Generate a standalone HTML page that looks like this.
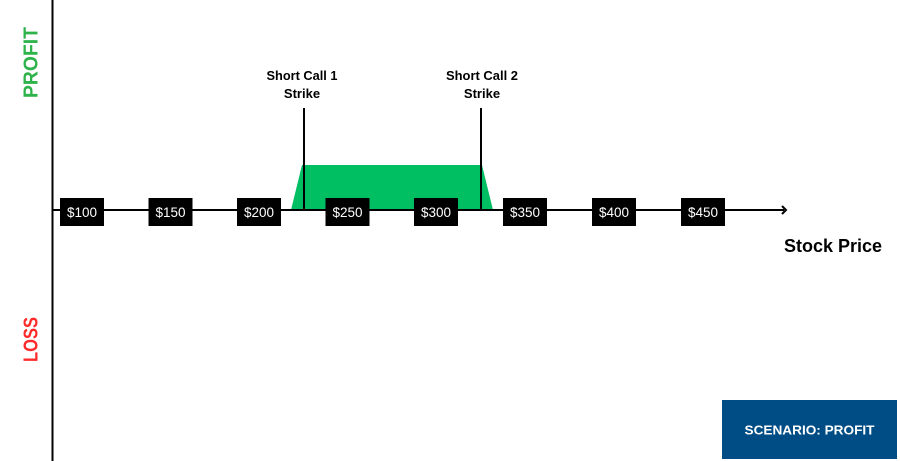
<!DOCTYPE html>
<html>
<head>
<meta charset="utf-8">
<style>
  html, body { margin:0; padding:0; background:#fff; }
  body { width:900px; height:461px; overflow:hidden; }
  svg { display:block; }
  text { font-family: "Liberation Sans", sans-serif; }
</style>
</head>
<body>
<svg width="900" height="461" viewBox="0 0 900 461" xmlns="http://www.w3.org/2000/svg">
  <rect width="900" height="461" fill="#fff"/>

  <!-- green profit area -->
  <polygon points="291,210 302,165 482,165 493,210" fill="#00BF63"/>

  <!-- vertical axis -->
  <line x1="52.5" y1="0" x2="52.5" y2="461" stroke="#000" stroke-width="2"/>

  <!-- horizontal axis -->
  <line x1="53" y1="210" x2="784" y2="210" stroke="#000" stroke-width="2"/>
  <polyline points="782,206 786,210 782,214" fill="none" stroke="#000" stroke-width="2"/>

  <!-- strike lines -->
  <line x1="304" y1="108" x2="304" y2="210" stroke="#000" stroke-width="2"/>
  <line x1="481" y1="108" x2="481" y2="210" stroke="#000" stroke-width="2"/>

  <!-- strike labels -->
  <text x="302" y="80" font-size="13" font-weight="bold" text-anchor="middle" fill="#000" textLength="71" lengthAdjust="spacingAndGlyphs">Short Call 1</text>
  <text x="302" y="98" font-size="13" font-weight="bold" text-anchor="middle" fill="#000">Strike</text>
  <text x="482" y="80" font-size="13" font-weight="bold" text-anchor="middle" fill="#000" textLength="72" lengthAdjust="spacingAndGlyphs">Short Call 2</text>
  <text x="482" y="98" font-size="13" font-weight="bold" text-anchor="middle" fill="#000">Strike</text>

  <!-- price boxes -->
  <g font-size="13.5" fill="#fff" text-anchor="middle">
    <rect x="60" y="198" width="44" height="28" fill="#000"/>
    <text x="82" y="217">$100</text>
    <rect x="148.5" y="198" width="44" height="28" fill="#000"/>
    <text x="170.5" y="217">$150</text>
    <rect x="237" y="198" width="44" height="28" fill="#000"/>
    <text x="259" y="217">$200</text>
    <rect x="325.5" y="198" width="44" height="28" fill="#000"/>
    <text x="347.5" y="217">$250</text>
    <rect x="414" y="198" width="44" height="28" fill="#000"/>
    <text x="436" y="217">$300</text>
    <rect x="503" y="198" width="44" height="28" fill="#000"/>
    <text x="525" y="217">$350</text>
    <rect x="592" y="198" width="44" height="28" fill="#000"/>
    <text x="614" y="217">$400</text>
    <rect x="681" y="198" width="44" height="28" fill="#000"/>
    <text x="703" y="217">$450</text>
  </g>

  <!-- Stock Price -->
  <text x="784" y="252" font-size="18" font-weight="bold" fill="#000" textLength="98" lengthAdjust="spacingAndGlyphs">Stock Price</text>

  <!-- PROFIT / LOSS -->
  <text transform="translate(37.5,62.5) rotate(-90)" font-size="20" font-weight="bold" fill="#2DB34A" text-anchor="middle" textLength="71" lengthAdjust="spacingAndGlyphs">PROFIT</text>
  <text transform="translate(37.5,339.5) rotate(-90)" font-size="20" font-weight="bold" fill="#FF2B2B" text-anchor="middle" textLength="45" lengthAdjust="spacingAndGlyphs">LOSS</text>

  <!-- scenario box -->
  <rect x="722" y="400" width="175" height="59" fill="#004D86"/>
  <text x="809.5" y="434.5" font-size="13" font-weight="bold" fill="#fff" text-anchor="middle" textLength="130" lengthAdjust="spacingAndGlyphs">SCENARIO: PROFIT</text>
</svg>
</body>
</html>
